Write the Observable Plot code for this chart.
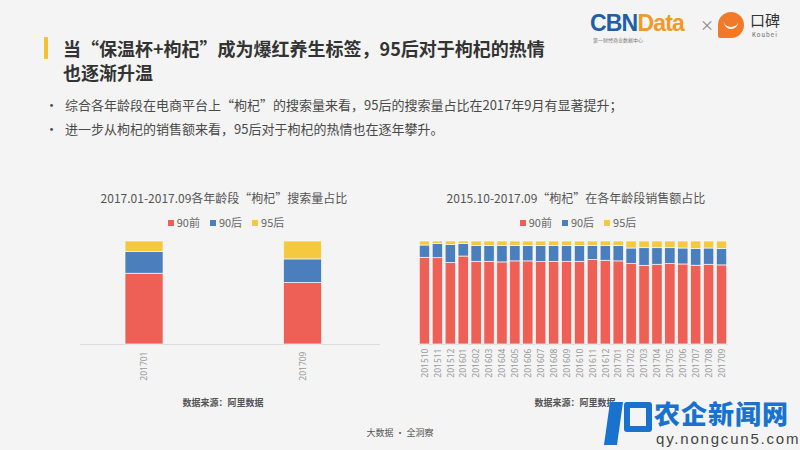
<!DOCTYPE html>
<html><head><meta charset="utf-8">
<script src="https://cdn.jsdelivr.net/npm/d3@7"></script>
<script src="https://cdn.jsdelivr.net/npm/@observablehq/plot@0.6"></script>
<style>
body{margin:0;background:#f4f4f4;font-family:"Noto Sans CJK SC","Noto Sans",sans-serif;}
#page{position:relative;width:800px;height:450px;overflow:hidden;background:#f4f4f4}
.abs{position:absolute}
.title{left:63px;top:36px;font-size:18px;font-weight:bold;line-height:24px;color:#333;white-space:nowrap}
.bul{left:45px;top:93px;font-size:13px;line-height:24px;color:#4a4a4a;white-space:nowrap}
.bul span{display:inline-block;width:20px}
.ctitle{width:400px;text-align:center;top:189px;font-size:12px;line-height:18px;color:#555;white-space:nowrap}
.legend{width:400px;top:214px;display:flex;justify-content:center;gap:10px;font-size:11px;line-height:16px;color:#666}
.legend i{display:inline-block;width:6px;height:6px;margin-right:3px;vertical-align:1px}
.src{width:200px;text-align:center;top:396px;font-size:9px;font-weight:bold;color:#555;line-height:14px}
</style></head><body>
<div id="page">
  <div class="abs" style="left:44px;top:37px;width:4px;height:22px;background:#f2c230;border-radius:1px"></div>
  <div class="abs title">当“保温杯+枸杞”成为爆红养生标签，95后对于枸杞的热情<br>也逐渐升温</div>
  <div class="abs bul"><span>•</span>综合各年龄段在电商平台上“枸杞”的搜索量来看，95后的搜索量占比在2017年9月有显著提升；<br><span>•</span>进一步从枸杞的销售额来看，95后对于枸杞的热情也在逐年攀升。</div>

  <div class="abs" style="left:590px;top:11px;font-family:'Liberation Sans',Roboto,sans-serif;font-weight:bold;font-size:23px;line-height:24px;letter-spacing:-0.8px"><span style="color:#1f5ea8">CBN</span><span style="color:#f19a26">Data</span></div>
  <div class="abs" style="left:593px;top:37px;font-size:5px;color:#777;line-height:6px">第一财经商业数据中心</div>
  <div class="abs" style="left:700px;top:14px;font-size:14px;color:#888;line-height:20px">×</div>
  <div class="abs" style="left:718px;top:12px;width:26px;height:26px;background:#f07a2a;border-radius:13px 13px 13px 2px"></div>
  <div class="abs" style="left:724px;top:20px;width:14px;height:7px;border-bottom:2px solid #fff;border-radius:0 0 8px 8px"></div>
  <div class="abs" style="left:750px;top:11px;font-size:15px;color:#333;line-height:18px">口碑</div>
  <div class="abs" style="left:752px;top:31px;font-size:6px;color:#666;line-height:8px;letter-spacing:1px">Koubei</div>

  <div class="abs ctitle" style="left:24px">2017.01-2017.09各年龄段“枸杞”搜索量占比</div>
  <div class="abs ctitle" style="left:376px">2015.10-2017.09“枸杞”在各年龄段销售额占比</div>
  <div class="abs legend" id="leg1" style="left:26px"></div>
  <div class="abs legend" id="leg2" style="left:378px"></div>
  <div class="abs" id="c1" style="left:0;top:235px"></div>
  <div class="abs" id="c2" style="left:400px;top:235px"></div>
  <div class="abs src" style="left:123px">数据来源：阿里数据</div>
  <div class="abs src" style="left:475px">数据来源：阿里数据</div>
  <div class="abs" style="left:300px;width:200px;text-align:center;top:426px;font-size:9px;color:#555;line-height:14px">大数据 · 全洞察</div>

  <div class="abs" style="left:607px;top:402px;width:13px;height:43px;background:#1a72cf;transform:skewX(-8deg)"></div>
  <div class="abs" style="left:624px;top:402px;height:30px;border:6px solid #1a72cf;border-radius:3px;box-sizing:border-box;width:28px"></div>
  <div class="abs" style="left:654px;top:401px;font-size:26px;font-weight:900;color:#1a72cf;line-height:24px;letter-spacing:1px">农企新闻网</div>
  <div class="abs" style="left:656px;top:432px;font-size:15px;color:#444;line-height:14px;letter-spacing:1.8px;font-family:'Liberation Sans',sans-serif">qy.nongcun5.com</div>
</div>
<script>
const series = ["90前", "90后", "95后"];
const colors = ["#ee5f56", "#4a7ebd", "#f5c93e"];

// Left chart: search share
const searchMonths = ["201701", "201709"];
const search90q = [0.687, 0.597];
const search90h = [0.210, 0.229];
const search95h = [0.103, 0.174];

// Right chart: sales share
const salesMonths = ["201510","201511","201512","201601","201602","201603","201604","201605","201606","201607","201608","201609","201610","201611","201612","201701","201702","201703","201704","201705","201706","201707","201708","201709"];
const sales90q = [0.842,0.838,0.791,0.854,0.803,0.803,0.797,0.807,0.807,0.800,0.803,0.803,0.803,0.819,0.813,0.807,0.780,0.764,0.774,0.780,0.777,0.765,0.774,0.768];
const sales90h = [0.119,0.139,0.174,0.123,0.152,0.152,0.158,0.148,0.148,0.155,0.155,0.152,0.152,0.139,0.142,0.148,0.152,0.171,0.161,0.155,0.155,0.161,0.158,0.158];
const sales95h = [0.039,0.023,0.035,0.023,0.045,0.045,0.045,0.045,0.045,0.045,0.042,0.045,0.045,0.042,0.045,0.045,0.068,0.065,0.065,0.065,0.068,0.074,0.068,0.074];

function longData(months, arrs) {
  const out = [];
  months.forEach((m, i) => arrs.forEach((a, k) => out.push({month: m, series: series[k], value: a[i]})));
  return out;
}

function legend(id) {
  const el = document.getElementById(id);
  series.forEach((s, k) => {
    const d = document.createElement("span");
    d.innerHTML = `<i style="background:${colors[k]}"></i>${s}`;
    el.appendChild(d);
  });
}
legend("leg1"); legend("leg2");

function chart(months, arrs, opts) {
  return Plot.plot({
    width: 400, height: 150,
    marginTop: 6, marginBottom: 41,
    marginLeft: opts.ml, marginRight: opts.mr,
    style: {background: "transparent", fontFamily: "'Noto Sans','DejaVu Sans',sans-serif", fontSize: "8.5px", color: "#999"},
    x: {domain: months, paddingInner: opts.pi, paddingOuter: opts.po, align: opts.align, round: false, label: null},
    y: {domain: [0, 1], axis: null},
    color: {domain: series, range: colors},
    marks: [
      Plot.ruleY([0], {stroke: "#dcdcdc"}),
      Plot.barY(longData(months, arrs), {x: "month", y: "value", fill: "series", order: series, stroke: "#f8f8f8", strokeWidth: 0.7}),
      Plot.axisX({tickSize: 0, tickPadding: opts.tp, tickRotate: -90, fill: "#999"})
    ]
  });
}

document.getElementById("c1").appendChild(chart(searchMonths, [search90q, search90h, search95h], {ml: 80, mr: 20, pi: 0.76, po: 0.3264, align: 0.435, tp: 7}));
document.getElementById("c2").appendChild(chart(salesMonths, [sales90q, sales90h, sales95h], {ml: 18, mr: 72, pi: 0.2, po: 0.1, align: 0.5, tp: 4}));
</script>
</body></html>
